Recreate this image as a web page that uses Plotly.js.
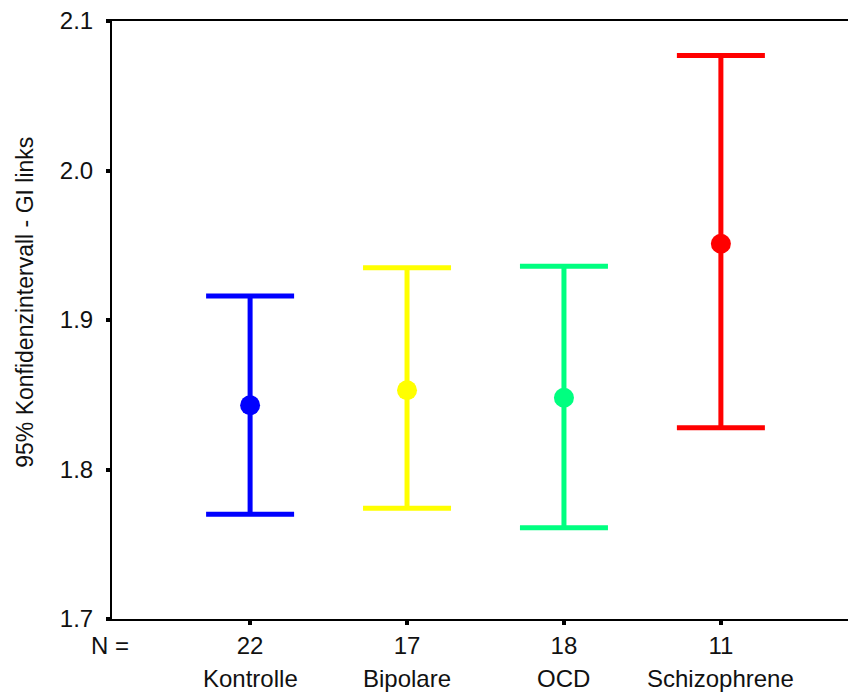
<!DOCTYPE html>
<html>
<head>
<meta charset="utf-8">
<script src="https://cdn.plot.ly/plotly-3.0.1.min.js"></script>
<style>html,body{margin:0;padding:0;background:#fff;}#chart{width:848px;height:696px;}</style>
</head>
<body>
<div id="chart"></div>
<script>
var categories = ["Kontrolle", "Bipolare", "OCD", "Schizophrene"];
var nValues = ["22", "17", "18", "11"];
var means = [1.843, 1.853, 1.848, 1.951];
var upper = [1.916, 1.935, 1.936, 2.077];
var lower = [1.770, 1.774, 1.761, 1.828];
var colors = ["#0000FF", "#FFFF00", "#00FF80", "#FF0000"];
var yTicks = [1.7, 1.8, 1.9, 2.0, 2.1];
var yTickText = ["1.7", "1.8", "1.9", "2.0", "2.1"];

var FONT = "Liberation Sans, Arial, sans-serif";
var FS = 24;
var traces = categories.map(function (c, i) {
  return {
    type: "scatter",
    mode: "markers",
    x: [i],
    y: [means[i]],
    marker: {color: colors[i], size: 20},
    error_y: {
      type: "data",
      symmetric: false,
      array: [upper[i] - means[i]],
      arrayminus: [means[i] - lower[i]],
      color: colors[i],
      thickness: 5,
      width: 44
    },
    showlegend: false,
    hoverinfo: "skip"
  };
});

var plotTop = 21, plotBottom = 619.5, plotH = plotBottom - plotTop;
var plotLeft = 112, plotW = 848 - 112;
var annotations = categories.map(function (c, i) {
  return {
    text: c, x: i, xref: "x", y: (plotBottom - 679) / plotH, yref: "paper",
    showarrow: false, font: {family: FONT, size: FS, color: "#111"},
    xanchor: "center", yanchor: "middle"
  };
});
annotations.push({
  text: "N =", x: (110 - plotLeft) / plotW, xref: "paper",
  y: (plotBottom - 646) / plotH, yref: "paper", showarrow: false,
  font: {family: FONT, size: FS, color: "#111"}, xanchor: "center", yanchor: "middle"
});
annotations.push({
  text: "95% Konfidenzintervall - GI links", textangle: -90,
  x: (25 - plotLeft) / plotW, xref: "paper",
  y: (plotBottom - 303) / plotH, yref: "paper", showarrow: false,
  font: {family: FONT, size: 23, color: "#111"}, xanchor: "center", yanchor: "middle"
});

var layout = {
  width: 848, height: 696,
  margin: {l: plotLeft, r: 0, t: plotTop, b: 696 - plotBottom},
  paper_bgcolor: "#fff", plot_bgcolor: "#fff",
  xaxis: {
    range: [-0.88, 3.81], tickvals: [0, 1, 2, 3], ticktext: nValues,
    showgrid: false, zeroline: false, showline: true, linecolor: "#000", linewidth: 2,
    mirror: true, ticks: "outside", ticklen: 4, tickwidth: 4, tickcolor: "#000",
    tickfont: {family: FONT, size: FS, color: "#111"}, ticklabelstandoff: 0
  },
  yaxis: {
    range: [1.7, 2.1], tickvals: yTicks, ticktext: yTickText,
    showgrid: false, zeroline: false, showline: true, linecolor: "#000", linewidth: 2,
    ticks: "outside", ticklen: 4, tickwidth: 4, tickcolor: "#000",
    tickfont: {family: FONT, size: FS, color: "#111"}, ticklabelstandoff: 8
  },
  annotations: annotations
};
Plotly.newPlot("chart", traces, layout, {staticPlot: true, displayModeBar: false});
</script>
</body>
</html>
